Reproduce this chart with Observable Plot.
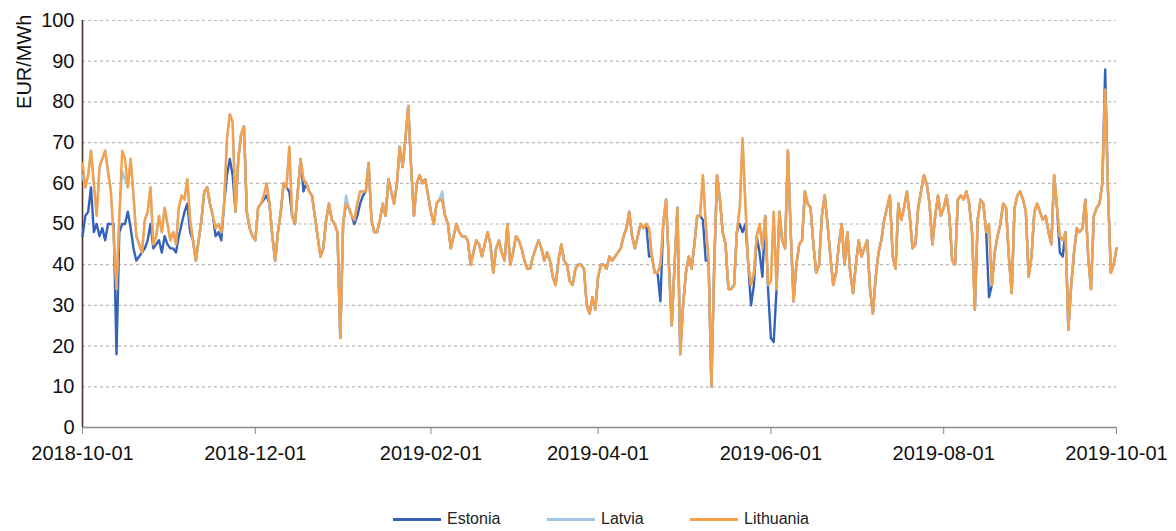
<!DOCTYPE html>
<html><head><meta charset="utf-8">
<script src="https://cdn.jsdelivr.net/npm/d3@7"></script>
<script src="https://cdn.jsdelivr.net/npm/@observablehq/plot@0.6"></script>
<style>
body{margin:0;background:#fff;font-family:"Liberation Sans",Arial,sans-serif;}
#wrap{position:relative;width:1176px;height:531px;overflow:hidden;}
#legend{position:absolute;left:0;top:500px;width:1176px;height:30px;font-size:16px;color:#222;}
.li{position:absolute;top:10px;display:flex;align-items:center;}
.sw{display:inline-block;width:48px;height:3px;margin-right:6px;}
</style></head><body><div id="wrap"><div id="chart"></div><div id="legend"></div></div>
<script>
const startDate = "2018-10-01";
const endDate = "2019-10-01";
const countries = ["Estonia", "Latvia", "Lithuania"];
const colors = ["#3462bb", "#a2c6ea", "#f5a04a"];
const xTicks = ["2018-10-01","2018-12-01","2019-02-01","2019-04-01","2019-06-01","2019-08-01","2019-10-01"];
const yTicks = [0,10,20,30,40,50,60,70,80,90,100];

const lithuania = [
65,59,62,68,60,52,64,66,68,63,
58,47,34,52,68,66,59,66,57,47,
45,43,51,53,59,45,47,52,48,54,
50,46,48,45,54,57,56,61,51,46,
41,46,51,58,59,55,52,49,50,48,
55,71,77,75,53,66,72,74,53,49,
47,46,54,55,57,60,55,47,41,48,
53,60,59,69,52,50,58,66,61,60,
58,57,52,47,42,44,51,55,51,50,
48,22,50,55,54,52,51,55,58,58,
58,65,51,48,48,51,55,52,61,58,
55,60,69,64,71,79,64,52,60,62,
60,61,57,53,50,55,56,56,52,50,
44,47,50,48,47,47,46,40,43,46,
45,42,45,48,45,38,44,46,43,41,
50,40,43,47,46,44,41,39,39,42,
44,46,44,41,43,41,37,35,41,45,
41,40,36,35,39,40,40,39,30,28,
32,29,37,40,40,39,42,41,42,43,
44,47,49,53,47,44,47,50,49,50,
49,42,38,38,40,50,56,40,25,40,
54,18,30,38,42,39,45,52,52,62,
50,41,10,40,62,56,48,45,34,34,
35,48,54,71,55,40,35,38,47,50,
44,52,35,36,53,34,53,46,44,68,
48,31,40,45,46,58,55,54,45,38,
40,52,57,50,42,35,38,45,50,40,
48,38,33,40,46,42,44,46,34,28,
37,43,46,51,54,57,42,39,55,51,
54,58,52,44,45,54,58,62,60,55,
45,52,57,52,54,57,52,41,40,56,
57,56,58,55,48,29,51,56,55,48,
50,35,43,47,50,55,54,42,33,54,
57,58,56,53,37,42,53,55,53,51,
52,48,45,62,54,47,46,48,24,35,
43,49,48,49,56,42,34,52,54,55,
60,83,58,38,40,44
];

const estonia = [
47,52,53,59,48,50,47,49,46,50,
50,50,18,48,50,50,53,49,44,41,
42,43,44,46,50,44,45,46,43,47,
45,44,44,43,47,50,53,55,48,46,
41,46,51,58,59,55,52,47,48,46,
55,62,66,62,53,66,72,74,53,49,
47,46,54,55,56,57,55,47,41,48,
53,60,59,58,52,50,58,66,58,60,
58,57,52,47,42,44,51,55,51,50,
48,22,50,55,54,52,50,52,55,57,
58,65,51,48,48,51,55,52,61,58,
55,60,69,64,71,79,64,52,60,62,
60,61,57,53,50,55,56,56,52,50,
44,47,50,48,47,47,46,40,43,46,
45,42,45,48,45,38,44,46,43,41,
50,40,43,47,46,44,41,39,39,42,
44,46,44,41,43,41,37,35,41,45,
41,40,36,35,39,40,40,39,30,28,
32,29,37,40,40,39,42,41,42,43,
44,47,49,53,47,44,47,50,49,50,
42,42,38,38,31,50,56,40,25,40,
54,18,30,38,42,39,45,52,52,51,
41,41,10,40,62,56,48,45,34,34,
35,48,50,48,50,40,30,35,47,43,
37,52,34,22,21,34,53,46,44,68,
48,31,40,45,46,58,55,54,45,38,
40,52,57,50,42,35,38,45,50,40,
48,38,33,40,46,42,44,46,34,28,
37,43,46,51,54,57,42,39,55,51,
54,58,52,44,45,54,58,62,60,55,
45,52,57,52,54,57,52,41,40,56,
57,56,58,55,48,29,51,56,55,48,
32,35,43,47,50,55,54,42,33,54,
57,58,56,53,37,42,53,55,53,51,
52,48,45,62,54,43,42,48,24,35,
43,49,48,49,56,42,34,52,54,55,
60,88,58,38,40,44
];

const latvia = [
62,59,62,68,60,52,64,66,68,63,
58,47,34,52,63,61,59,66,57,47,
45,43,51,53,59,45,47,52,48,54,
50,46,48,45,54,57,56,61,51,46,
41,46,51,58,59,55,52,49,50,48,
55,71,77,75,53,66,72,74,53,49,
47,46,54,55,57,60,55,47,41,48,
53,60,59,69,52,50,58,66,61,60,
58,57,52,47,42,44,51,55,51,50,
48,22,50,57,54,52,51,55,58,58,
58,65,51,48,48,51,55,52,61,58,
55,60,69,64,71,79,64,52,60,62,
60,61,57,53,50,55,56,58,52,50,
44,47,50,48,47,47,46,40,43,46,
45,42,45,48,45,38,44,46,43,41,
50,40,43,47,46,44,41,39,39,42,
44,46,44,41,43,41,37,35,41,45,
41,40,36,35,39,40,40,39,30,28,
32,29,37,40,40,39,42,41,42,43,
44,47,49,53,47,44,47,50,49,50,
49,42,38,38,40,50,56,40,25,40,
54,18,30,38,42,39,45,52,52,62,
50,41,10,40,62,56,48,45,34,34,
35,48,54,71,55,40,35,38,47,50,
44,52,35,36,53,34,53,46,44,68,
48,31,40,45,46,58,55,54,45,38,
40,52,57,50,42,35,38,45,50,40,
48,38,33,40,46,42,44,46,34,28,
37,43,46,51,54,57,42,39,55,51,
54,58,52,44,45,54,58,62,60,55,
45,52,57,52,54,57,52,41,40,56,
57,56,58,55,48,29,51,56,55,48,
50,35,43,47,50,55,54,42,33,54,
57,58,56,53,37,42,53,55,53,51,
52,48,45,62,54,47,46,48,24,35,
43,49,48,49,56,42,34,52,54,55,
60,83,58,38,40,44
];

const parse = d3.utcParse("%Y-%m-%d");
const dates = d3.utcDay.range(parse(startDate), d3.utcDay.offset(parse(endDate), 1));
const series = [estonia, latvia, lithuania];
const rows = [];
series.forEach((vals, i) => vals.forEach((v, j) => rows.push({date: dates[j], value: v, country: countries[i]})));

const chart = Plot.plot({
  width: 1176,
  height: 495,
  marginLeft: 82,
  marginRight: 60,
  marginTop: 20,
  marginBottom: 68,
  style: {fontFamily: "'Liberation Sans', Arial, sans-serif", fontSize: "20px", color: "#111", background: "#fff", overflow: "visible"},
  x: {type: "utc", domain: [parse(startDate), parse(endDate)]},
  y: {domain: [0, 100]},
  color: {domain: countries, range: colors},
  marks: [
    Plot.gridY(yTicks.filter(d => d > 0), {stroke: "#b8b8b8", strokeOpacity: 1, strokeDasharray: "3,3", strokeWidth: 1.2}),
    Plot.axisX(xTicks.map(parse), {tickFormat: d3.utcFormat("%Y-%m-%d"), tickSize: 7, tickPadding: 11, fontSize: 20, label: null, stroke: "#888"}),
    Plot.axisY(yTicks, {tickSize: 0, tickPadding: 8, label: null, fontSize: 20}),
    Plot.ruleY([0], {stroke: "#8a8a8a", strokeWidth: 1.3}),
    Plot.ruleX([parse(startDate)], {stroke: "#4a3232", strokeWidth: 1.6}),
    Plot.lineY(rows, {x: "date", y: "value", z: "country", stroke: "country", strokeWidth: 2.4, curve: "linear"}),
    Plot.text(["EUR/MWh"], {frameAnchor: "top-left", dx: -66, dy: -6, rotate: -90, textAnchor: "end", fontSize: 20, fill: "#111"})
  ]
});
document.getElementById("chart").appendChild(chart);

const legendPos = [393, 547, 690];
const legend = document.getElementById("legend");
countries.forEach((c, i) => {
  const item = document.createElement("div");
  item.className = "li";
  item.style.left = legendPos[i] + "px";
  item.innerHTML = `<span class="sw" style="background:${colors[i]}"></span><span>${c}</span>`;
  legend.appendChild(item);
});
</script>
</body></html>
